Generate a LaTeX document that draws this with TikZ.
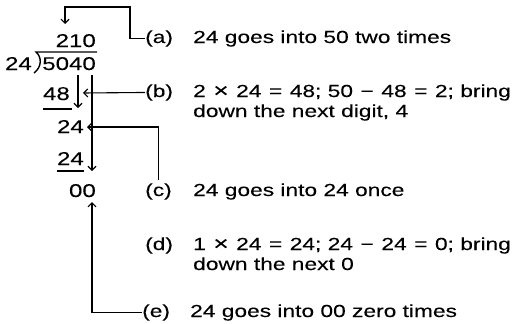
\documentclass[tikz,border=0pt]{standalone}
\usepackage{graphicx}
\usepackage{fontspec}
\setmainfont{Liberation Sans}[FakeStretch=1.3,FakeBold=0.12]
\usetikzlibrary{arrows.meta}
\newcommand{\opx}[1]{\hspace{1.2pt}#1\hspace{1.2pt}}
\newcommand{\timesx}{\raisebox{-0.3pt}{\scalebox{1.15}{×}}}
\begin{document}
\begin{tikzpicture}[x=1pt,y=-1pt,
  txt/.style={inner sep=0pt, font=\fontsize{17.5}{20}\selectfont},
  num/.style={inner sep=0pt, font=\fontsize{18.5}{20}\selectfont, anchor=base east},
  lbl/.style={txt, anchor=base west},
  conn/.style={line width=1.1pt},
  arr/.style={conn, -{Straight Barb[length=4pt,width=8pt]}}]
\useasboundingbox (0,0) rectangle (517,324);
% the long division
\node[num] (quot) at (96,47) {210};
\node[num] (dvd)  at (96,70) {5040};
\node[num] (dvs)  at (32,70) {24};
\node[num] (p1)   at (70,100) {48};
\node[num] (r1)   at (84,133) {24};
\node[num] (p2)   at (84,165) {24};
\node[num] (r2)   at (96,197) {00};
% division bracket and subtraction rules
\draw[line width=1.4pt] (34,73) .. controls (42,67) and (42,57) .. (36,52) -- (97,52);
\draw[conn] (43,109) -- (72,109);
\draw[conn] (57,171) -- (84,171);
% step labels
\node[lbl] (la) at (145,43) {(a)};
\node[lbl] (ta) at (193,43) {24 goes into 50 two times};
\node[lbl] (lb) at (145,97) {(b)};
\node[lbl] (tb1) at (193,97) {2 \opx{\timesx} 24 \opx{=} 48; 50 \opx{−} 48 \opx{=} 2; bring};
\node[lbl] (tb2) at (193,117) {down the next digit, 4};
\node[lbl] (lc) at (145,196) {(c)};
\node[lbl] (tc) at (193,196) {24 goes into 24 once};
\node[lbl] (ld) at (145,250) {(d)};
\node[lbl] (td1) at (193,250) {1 \opx{\timesx} 24 \opx{=} 24; 24 \opx{−} 24 \opx{=} 0; bring};
\node[lbl] (td2) at (193,270) {down the next 0};
\node[lbl] (le) at (142,317) {(e)};
\node[lbl] (te) at (190,317) {24 goes into 00 zero times};
% arrow end points
\coordinate (atip) at (65,24);
\coordinate (btip) at (83,93);
\coordinate (ctip) at (87,127);
\coordinate (etip) at (92,202);
\coordinate (four) at (78,75);
\coordinate (fourdn) at (78,108);
\coordinate (zero) at (92,75);
\coordinate (zerodn) at (92,171);
% connectors
\draw[arr] (la.west) -- ++(-15,0) |- (65,7) -- (atip);
\draw[arr] (lb.west) -- (btip);
\draw[arr] ([yshift=3pt]lc.north) -- (lc.north |- ctip) -- (ctip);
\draw[arr] (le.west) -- (le.west -| etip) -- (etip);
\draw[arr] (four) -- (fourdn);
\draw[arr] (zero) -- (zerodn);
\end{tikzpicture}
\end{document}
